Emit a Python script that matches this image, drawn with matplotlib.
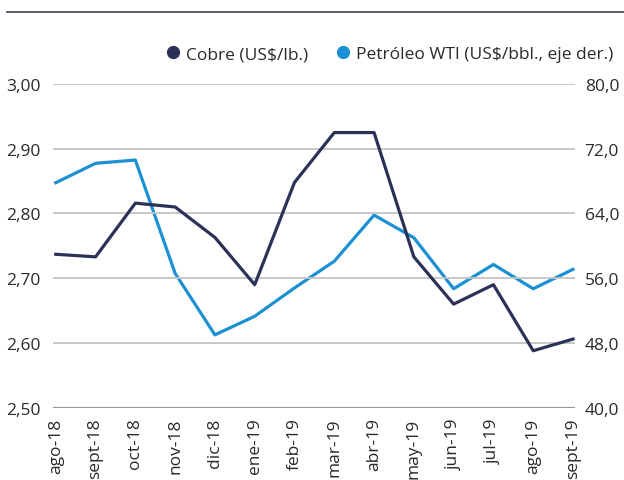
#!/usr/bin/env python
# cobre vs petroleo WTI, dos ejes
import matplotlib
matplotlib.use('Agg')
import matplotlib.pyplot as plt
from matplotlib.lines import Line2D
from matplotlib.ticker import FuncFormatter, FixedLocator

meses = ['ago-18', 'sept-18', 'oct-18', 'nov-18', 'dic-18', 'ene-19', 'feb-19',
         'mar-19', 'abr-19', 'may-19', 'jun-19', 'jul-19', 'ago-19', 'sept-19']
cobre = [2.737, 2.733, 2.816, 2.810, 2.763, 2.690, 2.848,
         2.925, 2.925, 2.733, 2.660, 2.690, 2.588, 2.606]
wti = [67.8, 70.2, 70.6, 56.6, 49.0, 51.3, 54.8,
       58.1, 63.8, 61.0, 54.7, 57.7, 54.7, 57.1]

col_cobre = '#2b3157'
col_wti = '#1b90d2'
col_txt = '#2a2a2a'

plt.rcParams['font.family'] = ['Open Sans', 'DejaVu Sans']
plt.rcParams['font.size'] = 12.5

fig = plt.figure(figsize=(6.24, 4.81), dpi=100)
ax = fig.add_axes([53 / 624, 1 - 408.7 / 481, (575 - 53) / 624, (408.7 - 85) / 481])
ax2 = ax.twinx()

x = list(range(len(meses)))
ax.plot(x, cobre, color=col_cobre, lw=2.3, zorder=3)
ax2.plot(x, wti, color=col_wti, lw=2.3, zorder=3)

ax.set_xlim(-0.07, len(meses) - 1 + 0.05)
ax.set_ylim(2.5, 3.0)
ax2.set_ylim(40, 80)
ax.yaxis.set_major_locator(FixedLocator([2.5, 2.6, 2.7, 2.8, 2.9, 3.0]))
ax2.yaxis.set_major_locator(FixedLocator([40, 48, 56, 64, 72, 80]))
ax.yaxis.set_major_formatter(FuncFormatter(lambda v, p: ('%.2f' % v).replace('.', ',')))
ax2.yaxis.set_major_formatter(FuncFormatter(lambda v, p: ('%.1f' % v).replace('.', ',')))

# gridlines
for v in [2.6, 2.7, 2.8, 2.9, 3.0]:
    ax.axhline(v, color='#c4c4c4', lw=1.3, zorder=1)
ax.axhline(2.5, color='#9a9a9a', lw=1.6, zorder=1)

ax.set_xticks(x)
ax.set_xticklabels(meses, rotation=90, color=col_txt)
ax.tick_params(axis='x', length=0, pad=7)
ax.tick_params(axis='y', length=0, pad=9, labelcolor=col_txt)
ax2.tick_params(axis='y', length=0, pad=7, labelcolor=col_txt)

for a in (ax, ax2):
    for s in a.spines.values():
        s.set_visible(False)
ax.set_zorder(ax2.get_zorder() + 1)
ax.patch.set_visible(False)

# linea superior
fig.add_artist(Line2D([7 / 624, 1.0], [1 - 12.5 / 481] * 2, color='#4b5168', lw=1.3))

handles = [Line2D([], [], marker='o', ls='none', ms=8.5, color=col_cobre),
           Line2D([], [], marker='o', ls='none', ms=8.5, color=col_wti)]
fig.legend(handles, ['Cobre (US$/lb.)', 'Petróleo WTI (US$/bbl., eje der.)'],
           loc='center right', bbox_to_anchor=(620 / 624, 1 - 55 / 481),
           ncol=2, frameon=False, handletextpad=0.35, columnspacing=1.6,
           handlelength=0.8, borderaxespad=0, labelcolor=col_txt)

fig.savefig('out.png', dpi=100)
